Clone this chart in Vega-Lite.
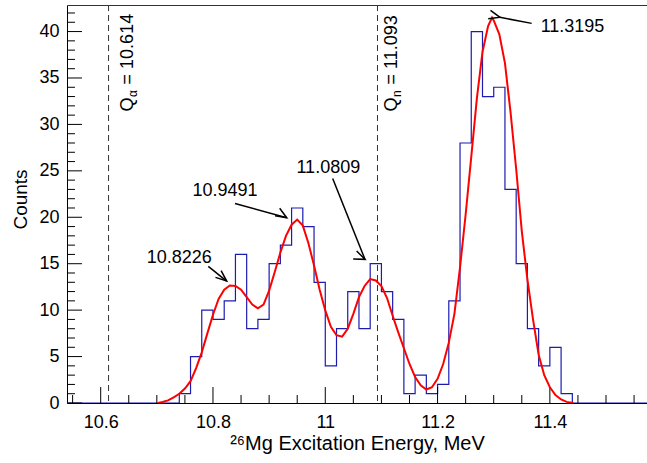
{
  "$schema": "https://vega.github.io/schema/vega-lite/v6.json",
  "width": 580,
  "height": 398,
  "autosize": "none",
  "padding": {"left": 67, "top": 5, "right": 0, "bottom": 60},
  "config": {
    "font": "Liberation Sans",
    "view": {"stroke": null},
    "axis": {"grid": false, "labelFont": "Liberation Sans", "titleFont": "Liberation Sans", "labelColor": "#000", "titleColor": "#000", "domainColor": "#000", "labelFontSize": 18, "titleFontWeight": "normal", "domainWidth": 1}
  },
  "datasets": {
    "hist": [
      {"e": 10.54, "c": 0}, {"e": 10.56, "c": 0}, {"e": 10.58, "c": 0}, {"e": 10.60, "c": 0},
      {"e": 10.62, "c": 0}, {"e": 10.64, "c": 0}, {"e": 10.66, "c": 0}, {"e": 10.68, "c": 0},
      {"e": 10.70, "c": 0}, {"e": 10.72, "c": 0}, {"e": 10.74, "c": 1}, {"e": 10.76, "c": 5},
      {"e": 10.78, "c": 10}, {"e": 10.80, "c": 9}, {"e": 10.82, "c": 11}, {"e": 10.84, "c": 16},
      {"e": 10.86, "c": 8}, {"e": 10.88, "c": 9}, {"e": 10.90, "c": 15}, {"e": 10.92, "c": 17},
      {"e": 10.94, "c": 21}, {"e": 10.96, "c": 19}, {"e": 10.98, "c": 13}, {"e": 11.00, "c": 4},
      {"e": 11.02, "c": 8}, {"e": 11.04, "c": 12}, {"e": 11.06, "c": 8}, {"e": 11.08, "c": 15},
      {"e": 11.10, "c": 12}, {"e": 11.12, "c": 9}, {"e": 11.14, "c": 1}, {"e": 11.16, "c": 3},
      {"e": 11.18, "c": 1}, {"e": 11.20, "c": 2}, {"e": 11.22, "c": 11}, {"e": 11.24, "c": 28},
      {"e": 11.26, "c": 40}, {"e": 11.28, "c": 33}, {"e": 11.30, "c": 34}, {"e": 11.32, "c": 23},
      {"e": 11.34, "c": 15}, {"e": 11.36, "c": 8}, {"e": 11.38, "c": 4}, {"e": 11.40, "c": 6},
      {"e": 11.42, "c": 1}, {"e": 11.44, "c": 0}, {"e": 11.46, "c": 0}, {"e": 11.48, "c": 0},
      {"e": 11.50, "c": 0}, {"e": 11.52, "c": 0}, {"e": 11.54, "c": 0}, {"e": 11.56, "c": 0},
      {"e": 11.58, "c": 0}
    ],
    "fit": [
      {"e": 10.702, "f": 0}, {"e": 10.71, "f": 0.1}, {"e": 10.72, "f": 0.28}, {"e": 10.73, "f": 0.6},
      {"e": 10.74, "f": 1.0}, {"e": 10.75, "f": 1.55}, {"e": 10.76, "f": 2.35}, {"e": 10.77, "f": 3.75},
      {"e": 10.78, "f": 5.45}, {"e": 10.79, "f": 7.5}, {"e": 10.80, "f": 9.5}, {"e": 10.81, "f": 11.2},
      {"e": 10.82, "f": 12.2}, {"e": 10.83, "f": 12.65}, {"e": 10.84, "f": 12.6}, {"e": 10.85, "f": 12.2},
      {"e": 10.86, "f": 11.4}, {"e": 10.87, "f": 10.6}, {"e": 10.88, "f": 10.2}, {"e": 10.89, "f": 10.6},
      {"e": 10.90, "f": 12.1}, {"e": 10.91, "f": 14.1}, {"e": 10.92, "f": 16.2}, {"e": 10.93, "f": 18.0},
      {"e": 10.94, "f": 19.2}, {"e": 10.95, "f": 19.75}, {"e": 10.96, "f": 19.1}, {"e": 10.97, "f": 17.2},
      {"e": 10.98, "f": 14.8}, {"e": 10.99, "f": 12.2}, {"e": 11.00, "f": 9.97}, {"e": 11.01, "f": 8.2},
      {"e": 11.02, "f": 7.3}, {"e": 11.03, "f": 7.15}, {"e": 11.04, "f": 8.0}, {"e": 11.05, "f": 9.6},
      {"e": 11.06, "f": 11.4}, {"e": 11.07, "f": 12.6}, {"e": 11.08, "f": 13.35}, {"e": 11.09, "f": 13.2},
      {"e": 11.10, "f": 12.6}, {"e": 11.11, "f": 11.3}, {"e": 11.12, "f": 9.4}, {"e": 11.13, "f": 7.6},
      {"e": 11.14, "f": 5.9}, {"e": 11.15, "f": 4.2}, {"e": 11.16, "f": 2.8}, {"e": 11.17, "f": 1.9},
      {"e": 11.18, "f": 1.45}, {"e": 11.19, "f": 1.7}, {"e": 11.20, "f": 2.6}, {"e": 11.21, "f": 4.2},
      {"e": 11.22, "f": 6.5}, {"e": 11.23, "f": 9.6}, {"e": 11.24, "f": 14.6}, {"e": 11.25, "f": 20.3},
      {"e": 11.26, "f": 26.5}, {"e": 11.27, "f": 32.8}, {"e": 11.28, "f": 37.8}, {"e": 11.29, "f": 40.6},
      {"e": 11.297, "f": 41.5}, {"e": 11.30, "f": 41.2}, {"e": 11.31, "f": 39.7}, {"e": 11.32, "f": 36.6},
      {"e": 11.33, "f": 31.3}, {"e": 11.34, "f": 25.2}, {"e": 11.35, "f": 18.5}, {"e": 11.36, "f": 13.3},
      {"e": 11.37, "f": 9.0}, {"e": 11.38, "f": 5.2}, {"e": 11.39, "f": 3.0}, {"e": 11.40, "f": 1.7},
      {"e": 11.41, "f": 0.85}, {"e": 11.42, "f": 0.38}, {"e": 11.43, "f": 0.12}, {"e": 11.442, "f": 0}
    ],
    "xmajor": [{"t": 10.6}, {"t": 10.8}, {"t": 11.0}, {"t": 11.2}, {"t": 11.4}],
    "xminor": [{"t": 10.55}, {"t": 10.65}, {"t": 10.7}, {"t": 10.75}, {"t": 10.85}, {"t": 10.9}, {"t": 10.95}, {"t": 11.05}, {"t": 11.1}, {"t": 11.15}, {"t": 11.25}, {"t": 11.3}, {"t": 11.35}, {"t": 11.45}, {"t": 11.5}, {"t": 11.55}],
    "ymajor": [{"t": 0}, {"t": 5}, {"t": 10}, {"t": 15}, {"t": 20}, {"t": 25}, {"t": 30}, {"t": 35}, {"t": 40}],
    "yminor": [{"t": 1}, {"t": 2}, {"t": 3}, {"t": 4}, {"t": 6}, {"t": 7}, {"t": 8}, {"t": 9}, {"t": 11}, {"t": 12}, {"t": 13}, {"t": 14}, {"t": 16}, {"t": 17}, {"t": 18}, {"t": 19}, {"t": 21}, {"t": 22}, {"t": 23}, {"t": 24}, {"t": 26}, {"t": 27}, {"t": 28}, {"t": 29}, {"t": 31}, {"t": 32}, {"t": 33}, {"t": 34}, {"t": 36}, {"t": 37}, {"t": 38}, {"t": 39}, {"t": 41}, {"t": 42}],
    "qlines": [
      {"sym": "α", "rest": "= 10.614", "v": 10.614, "tx": 10.6584, "ty": 31.4},
      {"sym": "n", "rest": "= 11.093", "v": 11.093, "tx": 11.128, "ty": 31.4}
    ],
    "arrows": [
      {"lab": "10.8226", "x1": 10.7916, "y1": 14.72, "x2": 10.8244, "y2": 13.13, "lx": 10.7398, "ly": 15.07},
      {"lab": "10.9491", "x1": 10.8392, "y1": 21.48, "x2": 10.9313, "y2": 19.95, "lx": 10.8214, "ly": 22.26},
      {"lab": "11.0809", "x1": 11.0132, "y1": 24.17, "x2": 11.0707, "y2": 15.47, "lx": 11.0054, "ly": 24.78},
      {"lab": "11.3195", "x1": 11.3676, "y1": 40.88, "x2": 11.3111, "y2": 41.53, "lx": 11.4403, "ly": 39.98}
    ]
  },
  "resolve": {"axis": {"x": "independent", "y": "independent"}},
  "layer": [
    {
      "data": {"name": "hist"},
      "mark": {"type": "line", "interpolate": "step-after", "color": "#1c1cb0", "strokeWidth": 1.2, "clip": true},
      "encoding": {
        "x": {"field": "e", "type": "quantitative", "scale": {"domain": [10.54, 11.573], "nice": false, "zero": false},
              "axis": {"orient": "bottom", "values": [10.6, 10.8, 11, 11.2, 11.4], "format": "~g", "ticks": false, "labelPadding": 10, "labelFlush": false, "labelOverlap": false,
                       "title": "²⁶Mg Excitation Energy, MeV", "titleFontSize": 20, "titleX": 290, "titleY": 46, "titleAlign": "center", "titleBaseline": "alphabetic"}},
        "y": {"field": "c", "type": "quantitative", "scale": {"domain": [0, 42.86], "nice": false, "zero": false},
              "axis": {"orient": "left", "values": [0, 5, 10, 15, 20, 25, 30, 35, 40], "format": "d", "ticks": false, "labelPadding": 8, "labelFlush": false, "labelOverlap": false,
                       "title": "Counts", "titleFontSize": 19, "titleAngle": -90, "titleX": -41, "titleY": 194, "titleAlign": "center", "titleBaseline": "alphabetic"}}
      }
    },
    {
      "data": {"name": "xmajor"},
      "mark": {"type": "rule", "color": "#000", "strokeWidth": 1},
      "encoding": {
        "x": {"field": "t", "type": "quantitative", "axis": null},
        "y": {"datum": 0, "type": "quantitative", "axis": null},
        "y2": {"datum": 1.72}
      }
    },
    {
      "data": {"name": "xminor"},
      "mark": {"type": "rule", "color": "#000", "strokeWidth": 1},
      "encoding": {
        "x": {"field": "t", "type": "quantitative", "axis": null},
        "y": {"datum": 0, "type": "quantitative", "axis": null},
        "y2": {"datum": 0.86}
      }
    },
    {
      "data": {"name": "ymajor"},
      "mark": {"type": "rule", "color": "#000", "strokeWidth": 1},
      "encoding": {
        "y": {"field": "t", "type": "quantitative", "axis": null},
        "x": {"datum": 10.54, "type": "quantitative", "axis": null},
        "x2": {"datum": 10.5667}
      }
    },
    {
      "data": {"name": "yminor"},
      "mark": {"type": "rule", "color": "#000", "strokeWidth": 1},
      "encoding": {
        "y": {"field": "t", "type": "quantitative", "axis": null},
        "x": {"datum": 10.54, "type": "quantitative", "axis": null},
        "x2": {"datum": 10.5542}
      }
    },
    {
      "data": {"name": "fit"},
      "mark": {"type": "line", "color": "#ff0000", "strokeWidth": 2, "clip": true},
      "encoding": {
        "x": {"field": "e", "type": "quantitative", "axis": null},
        "y": {"field": "f", "type": "quantitative", "axis": null}
      }
    },
    {
      "data": {"name": "qlines"},
      "mark": {"type": "rule", "color": "#333", "strokeWidth": 1, "strokeDash": [6, 4]},
      "encoding": {"x": {"field": "v", "type": "quantitative", "axis": null}}
    },
    {
      "data": {"name": "qlines"},
      "mark": {"type": "text", "angle": -90, "align": "left", "baseline": "alphabetic", "fontSize": 18, "color": "#000", "text": "Q"},
      "encoding": {
        "x": {"field": "tx", "type": "quantitative", "axis": {"orient": "top", "domain": true, "ticks": false, "labels": false, "title": null, "domainColor": "#333"}},
        "y": {"field": "ty", "type": "quantitative", "axis": null}
      }
    },
    {
      "data": {"name": "qlines"},
      "mark": {"type": "text", "angle": -90, "align": "left", "baseline": "alphabetic", "fontSize": 12, "color": "#000", "dx": 14.5, "dy": 4},
      "encoding": {"x": {"field": "tx", "type": "quantitative", "axis": null}, "y": {"field": "ty", "type": "quantitative", "axis": null}, "text": {"field": "sym"}}
    },
    {
      "data": {"name": "qlines"},
      "mark": {"type": "text", "angle": -90, "align": "left", "baseline": "alphabetic", "fontSize": 18, "color": "#000", "dx": 27},
      "encoding": {"x": {"field": "tx", "type": "quantitative", "axis": null}, "y": {"field": "ty", "type": "quantitative", "axis": null}, "text": {"field": "rest"}}
    },
    {
      "data": {"name": "arrows"},
      "mark": {"type": "rule", "color": "#000", "strokeWidth": 1.5},
      "encoding": {
        "x": {"field": "x1", "type": "quantitative", "axis": null}, "y": {"field": "y1", "type": "quantitative", "axis": null},
        "x2": {"field": "x2"}, "y2": {"field": "y2"}
      }
    },
    {
      "data": {"name": "arrows"},
      "mark": {"type": "point", "shape": "M -0.4 1 L 0 0 L 0.4 1", "filled": false, "stroke": "#000", "strokeWidth": 1.5, "size": 480, "opacity": 1},
      "encoding": {
        "x": {"field": "x2", "type": "quantitative", "axis": null}, "y": {"field": "y2", "type": "quantitative", "axis": null},
        "angle": {"field": "lab", "type": "nominal", "scale": {"domain": ["10.8226", "10.9491", "11.0809", "11.3195"], "range": [130, 105, 158, 281]}, "legend": null}
      }
    },
    {
      "data": {"name": "arrows"},
      "mark": {"type": "text", "align": "center", "baseline": "alphabetic", "fontSize": 18, "color": "#000"},
      "encoding": {
        "x": {"field": "lx", "type": "quantitative", "axis": null},
        "y": {"field": "ly", "type": "quantitative", "axis": null},
        "text": {"field": "lab"}
      }
    }
  ]
}
